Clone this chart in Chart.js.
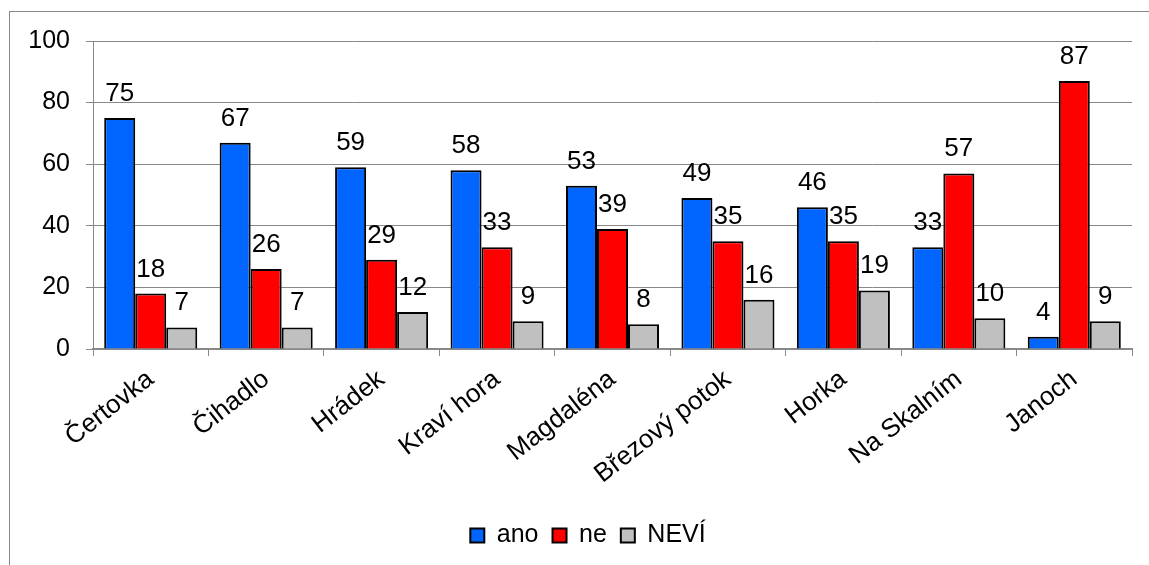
<!DOCTYPE html>
<html>
<head>
<meta charset="utf-8">
<script src="https://cdn.jsdelivr.net/npm/chart.js@4"></script>
<style>
  html, body { margin: 0; padding: 0; background: #fff; }
  #wrap { position: relative; width: 1149px; height: 565px; }
</style>
</head>
<body>
<div id="wrap"><canvas id="chart" width="1149" height="565"></canvas></div>
<script>
// Data
const categories = ['Čertovka', 'Čihadlo', 'Hrádek', 'Kraví hora', 'Magdaléna', 'Březový potok', 'Horka', 'Na Skalním', 'Janoch'];
const anoValues = [75, 67, 59, 58, 53, 49, 46, 33, 4];
const neValues = [18, 26, 29, 33, 39, 35, 35, 57, 87];
const neviValues = [7, 7, 12, 9, 8, 16, 19, 10, 9];
const yTicks = [0, 20, 40, 60, 80, 100];

const FONT = "'Liberation Sans', Arial, sans-serif";
Chart.defaults.font.family = FONT;
Chart.defaults.color = '#000';

// Outer frame like the spreadsheet chart area
const framePlugin = {
    id: 'frame',
    beforeDraw(chart) {
        const ctx = chart.ctx;
        ctx.save();
        ctx.fillStyle = '#fff';
        ctx.fillRect(0, 0, chart.width, chart.height);
        ctx.strokeStyle = '#888';
        ctx.lineWidth = 1;
        ctx.strokeRect(9.5, 11.5, 2000, 2000);
        ctx.restore();
    }
};

// Legend in the original sits a bit right of the canvas centre
const legendShift = {
    id: 'legendShift',
    afterLayout(chart) {
        if (chart.legend) {
            chart.legend.left += 22;
            chart.legend.right += 22;
        }
    }
};

// Value labels above each bar
const valueLabels = {
    id: 'valueLabels',
    afterDatasetsDraw(chart) {
        const ctx = chart.ctx;
        ctx.save();
        ctx.font = '26px ' + FONT;
        ctx.fillStyle = '#000';
        ctx.textAlign = 'center';
        ctx.textBaseline = 'alphabetic';
        chart.data.datasets.forEach((ds, i) => {
            chart.getDatasetMeta(i).data.forEach((bar, j) => {
                ctx.fillText(String(ds.data[j]), bar.x, bar.y - 17);
            });
        });
        ctx.restore();
    }
};

new Chart(document.getElementById('chart'), {
    type: 'bar',
    data: {
        labels: categories,
        datasets: [
            { label: 'ano', data: anoValues, backgroundColor: '#0066ff' },
            { label: 'ne', data: neValues, backgroundColor: '#ff0000' },
            { label: 'NEVÍ', data: neviValues, backgroundColor: '#c0c0c0' }
        ]
    },
    options: {
        responsive: false,
        animation: false,
        layout: { padding: { top: 41, right: 17, left: 0, bottom: 7 } },
        datasets: {
            bar: {
                borderColor: '#000',
                borderWidth: 2,
                barPercentage: 1,
                categoryPercentage: 0.806
            }
        },
        scales: {
            x: {
                grid: { drawOnChartArea: false, drawTicks: true, tickLength: 7, color: '#888', lineWidth: 1 },
                border: { color: '#888', width: 2 },
                ticks: { font: { size: 26 }, maxRotation: 38, minRotation: 38, padding: 8, color: '#000' },
                afterFit(scale) { scale.height = 160; }
            },
            y: {
                min: 0,
                max: 100,
                afterBuildTicks(scale) { scale.ticks = yTicks.map(v => ({ value: v })); },
                grid: { color: '#888', lineWidth: 1, tickLength: 7 },
                border: { color: '#888', width: 1 },
                ticks: { font: { size: 25 }, padding: 16, color: '#000' },
                afterFit(scale) { scale.width = 93; }
            }
        },
        plugins: {
            legend: {
                position: 'bottom',
                labels: {
                    font: { size: 25 },
                    boxWidth: 14,
                    boxHeight: 14,
                    padding: 14,
                    color: '#000'
                }
            },
            tooltip: { enabled: false }
        }
    },
    plugins: [framePlugin, legendShift, valueLabels]
});
</script>
</body>
</html>
